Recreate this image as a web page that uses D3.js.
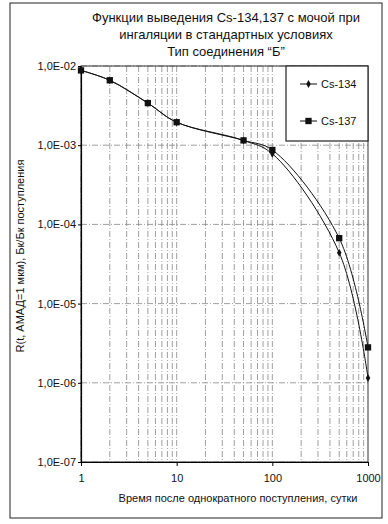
<!DOCTYPE html>
<html>
<head>
<meta charset="utf-8">
<script src="https://cdn.jsdelivr.net/npm/d3@7"></script>
<style>
  body { margin: 0; background: #fff; }
  svg text { font-family: "Liberation Sans", Arial, sans-serif; fill: #111; }
</style>
</head>
<body>
<div id="chart"></div>
<script>
// time after intake, days
var days = [1, 2, 5, 10, 50, 100, 500, 1000];
// retention values, Bq/Bq intake
var cs134 = [8.8e-3, 6.6e-3, 3.4e-3, 1.95e-3, 1.15e-3, 7.8e-4, 4.4e-5, 1.15e-6];
var cs137 = [8.8e-3, 6.6e-3, 3.4e-3, 1.95e-3, 1.15e-3, 8.7e-4, 6.7e-5, 2.8e-6];
var seriesNames = ["Cs-134", "Cs-137"];
var xTicks = [1, 10, 100, 1000];
var yTicks = [1e-2, 1e-3, 1e-4, 1e-5, 1e-6, 1e-7];
var yTickLabels = ["1,0E-02", "1,0E-03", "1,0E-04", "1,0E-05", "1,0E-06", "1,0E-07"];
var titleLines = ["Функции выведения Cs-134,137 с мочой при",
                  "ингаляции в стандартных условиях",
                  "Тип соединения “Б”"];

var W = 388, H = 524;
var margin = {top: 66, right: 20, bottom: 62, left: 81},
    width = 368 - margin.left,
    height = 462 - margin.top;

var svg = d3.select("#chart").append("svg")
    .attr("width", W).attr("height", H);

// outer frame
svg.append("rect")
    .attr("x", 10).attr("y", 3)
    .attr("width", 372).attr("height", 515)
    .attr("fill", "none").attr("stroke", "#222").attr("stroke-width", 1);

// title
svg.append("g").selectAll("text")
    .data(titleLines).enter().append("text")
    .attr("x", 226)
    .attr("y", function(d, i) { return 22 + i * 17; })
    .attr("text-anchor", "middle")
    .style("font-size", "13px")
    .text(function(d) { return d; });

var g = svg.append("g")
    .attr("transform", "translate(" + margin.left + "," + margin.top + ")");

var x = d3.scaleLog().domain([1, 1000]).range([0, width]);
var y = d3.scaleLog().domain([1e-7, 1e-2]).range([height, 0]);

// grid lines: every 1..9 on x, decades on y
var xGrid = [];
for (var k = 0; k < 3; k++) {
    for (var m = 1; m <= 9; m++) xGrid.push(m * Math.pow(10, k));
}
g.append("g").selectAll("line")
    .data(xGrid).enter().append("line")
    .attr("x1", function(d) { return x(d); })
    .attr("x2", function(d) { return x(d); })
    .attr("y1", 0).attr("y2", height)
    .attr("stroke", "#888").attr("stroke-width", 0.8)
    .attr("stroke-dasharray", "6,2,1,2");

g.append("g").selectAll("line")
    .data(yTicks).enter().append("line")
    .attr("x1", 0).attr("x2", width)
    .attr("y1", function(d) { return y(d); })
    .attr("y2", function(d) { return y(d); })
    .attr("stroke", "#888").attr("stroke-width", 0.8)
    .attr("stroke-dasharray", "6,2,1,2");

// plot frame
g.append("rect")
    .attr("width", width).attr("height", height)
    .attr("fill", "none").attr("stroke", "#333").attr("stroke-width", 1);

// axes
var yAxis = g.append("g")
    .call(d3.axisLeft(y).tickValues(yTicks)
          .tickFormat(function(d, i) { return yTickLabels[i]; })
          .tickSize(3).tickSizeOuter(0).tickPadding(2));
yAxis.select(".domain").attr("stroke", "#000").attr("stroke-width", 1.2);
yAxis.selectAll("text").style("font-size", "11px");

var xAxis = g.append("g")
    .attr("transform", "translate(0," + height + ")")
    .call(d3.axisBottom(x).tickValues(xTicks)
          .tickFormat(d3.format("d"))
          .tickSize(4).tickSizeOuter(0).tickPadding(8));
xAxis.select(".domain").attr("stroke", "#000").attr("stroke-width", 1.2);
xAxis.selectAll("text").style("font-size", "11px");

// axis titles
svg.append("text")
    .attr("x", 238).attr("y", 502)
    .attr("text-anchor", "middle")
    .style("font-size", "11px")
    .text("Время после однократного поступления, сутки");

svg.append("text")
    .attr("transform", "translate(24," + (margin.top + height / 2 - 8) + ") rotate(-90)")
    .attr("text-anchor", "middle")
    .style("font-size", "11px")
    .text("R(t, АМАД=1 мкм), Бк/Бк поступления");

// curves
var line = d3.line()
    .x(function(d) { return x(d[0]); })
    .y(function(d) { return y(d[1]); })
    .curve(d3.curveCatmullRom.alpha(0.5));

var series = [cs134, cs137].map(function(vals) {
    return days.map(function(t, i) { return [t, vals[i]]; });
});

g.selectAll("path.curve")
    .data(series).enter().append("path")
    .attr("class", "curve")
    .attr("d", line)
    .attr("fill", "none").attr("stroke", "#111").attr("stroke-width", 1);

var diamond = d3.symbol().type(d3.symbolDiamond).size(18);
var square = d3.symbol().type(d3.symbolSquare).size(40);

g.append("g").selectAll("path")
    .data(series[1]).enter().append("path")
    .attr("d", square)
    .attr("transform", function(d) { return "translate(" + x(d[0]) + "," + y(d[1]) + ")"; })
    .attr("fill", "#111");

g.append("g").selectAll("path")
    .data(series[0]).enter().append("path")
    .attr("d", diamond)
    .attr("transform", function(d) { return "translate(" + x(d[0]) + "," + y(d[1]) + ")"; })
    .attr("fill", "#111");

// legend
var leg = svg.append("g");
leg.append("rect")
    .attr("x", 286).attr("y", 66)
    .attr("width", 82).attr("height", 75)
    .attr("fill", "#fff").attr("stroke", "#222").attr("stroke-width", 1.2);

var legItems = leg.selectAll("g.item")
    .data(seriesNames).enter().append("g")
    .attr("class", "item")
    .attr("transform", function(d, i) { return "translate(300," + (84 + i * 37) + ")"; });
legItems.append("line")
    .attr("x1", 0).attr("x2", 17)
    .attr("stroke", "#111").attr("stroke-width", 1);
legItems.append("path")
    .attr("d", function(d, i) { return i === 0 ? diamond() : square(); })
    .attr("transform", "translate(8.5,0)")
    .attr("fill", "#111");
legItems.append("text")
    .attr("x", 21).attr("dy", "0.35em")
    .style("font-size", "11px")
    .text(function(d) { return d; });
</script>
</body>
</html>
